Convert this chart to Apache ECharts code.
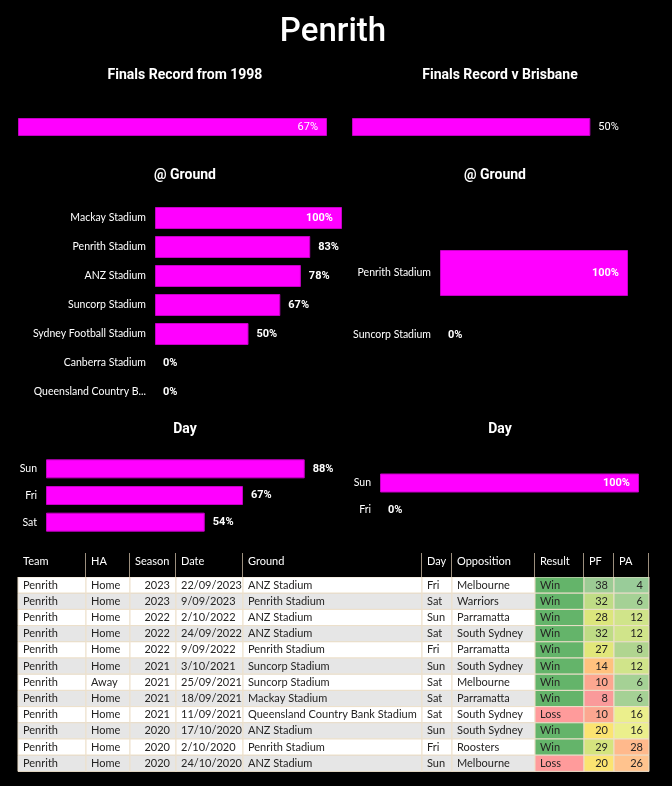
<!DOCTYPE html>
<html><head><meta charset="utf-8">
<script src="https://cdn.jsdelivr.net/npm/echarts@6/dist/echarts.min.js"></script>
<style>html,body{margin:0;padding:0;background:#000;}#c{width:672px;height:786px;}</style>
</head><body><div id="c"></div>
<script>
// ---------- DATA ----------
const overallCats = ['Finals from 1998'];
const overallVals = [0.67];
const brisbaneCats = ['v Brisbane'];
const brisbaneVals = [0.50];
const groundCats = ['Mackay Stadium','Penrith Stadium','ANZ Stadium','Suncorp Stadium','Sydney Football Stadium','Canberra Stadium','Queensland Country Bank Stadium'];
const groundVals = [1.00,0.83,0.78,0.67,0.50,0,0];
const groundBrisCats = ['Penrith Stadium','Suncorp Stadium'];
const groundBrisVals = [1.00,0];
const dayCats = ['Sun','Fri','Sat'];
const dayVals = [0.88,0.67,0.54];
const dayBrisCats = ['Sun','Fri'];
const dayBrisVals = [1.00,0];

const tableColumns = ['Team','HA','Season','Date','Ground','Day','Opposition','Result','PF','PA'];
const team = ['Penrith','Penrith','Penrith','Penrith','Penrith','Penrith','Penrith','Penrith','Penrith','Penrith','Penrith','Penrith'];
const ha = ['Home','Home','Home','Home','Home','Home','Away','Home','Home','Home','Home','Home'];
const season = [2023,2023,2022,2022,2022,2021,2021,2021,2021,2020,2020,2020];
const date = ['22/09/2023','9/09/2023','2/10/2022','24/09/2022','9/09/2022','3/10/2021','25/09/2021','18/09/2021','11/09/2021','17/10/2020','2/10/2020','24/10/2020'];
const ground = ['ANZ Stadium','Penrith Stadium','ANZ Stadium','ANZ Stadium','Penrith Stadium','Suncorp Stadium','Suncorp Stadium','Mackay Stadium','Queensland Country Bank Stadium','ANZ Stadium','Penrith Stadium','ANZ Stadium'];
const day = ['Fri','Sat','Sun','Sat','Fri','Sun','Sat','Sat','Sat','Sun','Fri','Sun'];
const opposition = ['Melbourne','Warriors','Parramatta','South Sydney','Parramatta','South Sydney','Melbourne','Parramatta','South Sydney','South Sydney','Roosters','Melbourne'];
const result = ['Win','Win','Win','Win','Win','Win','Win','Win','Loss','Win','Win','Loss'];
const pf = [38,32,28,32,27,14,10,8,10,20,29,20];
const pa = [4,6,12,12,8,12,6,6,16,16,28,26];

// ---------- STYLE / LAYOUT ----------
const MAG = '#ff00ff';
const TXT_FONT = "'Segoe UI', Lato, 'Open Sans', sans-serif";
const HEAD_FONT = "Roboto, 'DejaVu Sans', sans-serif";
const colEdges = [0,68,112,158,225,404,434,517,566,596,631];
const rightAligned = {2:true, 8:true, 9:true};
const resultColors = {Win:'#64b46a', Loss:'#ff9b9b'};
const rowFills = ['#ffffff','#e6e6e6'];
const cellBorder = '#ede0cb';

const pct = v => Math.round(v*100) + '%';

function barData(vals, max, thresh) {
  return vals.map(v => ({
    value: v,
    itemStyle: v === 0 ? {borderWidth:0} : undefined,
    label: (v/max >= thresh)
      ? {position:'insideRight', distance: 9}
      : {position:'right', distance: 8}
  }));
}

const grids = [
  {left:18, top:118, width:309, height:18},   // 0 overall
  {left:352, top:118, width:286, height:18},  // 1 v brisbane
  {left:155, top:203.5, width:187, height:203}, // 2 ground
  {left:440, top:242, width:188, height:124}, // 3 ground v bris
  {left:46, top:455.5, width:294, height:80}, // 4 day
  {left:380, top:469.5, width:259, height:54},// 5 day v bris
  {left:18, top:577, width:631, height:194.4},// 6 table body
  {left:18, top:550, width:631, height:27}    // 7 table header
];

const catLabel = {color:'#ffffff', fontSize:10.5, fontFamily:TXT_FONT, margin:9};

function valueAxis(gi, max) {
  return {type:'value', gridIndex:gi, min:0, max:max, show:false};
}
function catAxis(gi, data, showLabel, extra) {
  return Object.assign({
    type:'category', gridIndex:gi, data:data, inverse:true,
    axisLine:{show:false}, axisTick:{show:false}, splitLine:{show:false},
    axisLabel: Object.assign({show:showLabel}, catLabel)
  }, extra || {});
}

function barSeries(gi, vals, max, bw, bold) {
  return {
    type:'bar', xAxisIndex:gi, yAxisIndex:gi, barWidth:bw,
    data: barData(vals, max, 0.9),
    itemStyle:{color:MAG, borderColor:'#c400c4', borderWidth:1},
    label:{show:true, formatter: p => pct(p.value), color:'#ffffff',
      fontFamily:HEAD_FONT, fontSize:11, fontWeight: bold ? 'bold' : 'normal'},
    emphasis:{disabled:true}, silent:true
  };
}

// table cells
const textCols = [team, ha, season, date, ground, day, opposition];
const cells = [];
textCols.forEach((arr, c) => arr.forEach((v, r) => cells.push({c:c, r:r, text:String(v)})));
const resultCells = result.map((v, r) => ({c:7, r:r, text:v}));

function cellRect(api, c, r) {
  const p0 = api.coord([colEdges[c], r]);
  const p1 = api.coord([colEdges[c+1], r]);
  const h = api.size([0,1])[1];
  return {x:p0[0], y:p0[1]-h/2, w:p1[0]-p0[0], h:h, cy:p0[1]};
}
function cellGroup(rc, c, fill, text, color) {
  const right = rightAligned[c];
  return {
    type:'group',
    children:[
      {type:'rect', shape:{x:rc.x, y:rc.y, width:rc.w, height:rc.h},
        style:{fill:fill, stroke:cellBorder, lineWidth:1}},
      {type:'text', style:{
        text:text, x: right ? rc.x + rc.w - 6 : rc.x + 5, y: rc.cy,
        textAlign: right ? 'right' : 'left', textVerticalAlign:'middle',
        fill: color || '#252423', font: "11px " + TXT_FONT }}
    ]
  };
}

const rowIdx = team.map((_, i) => String(i));
const subStyle = {color:'#fff', fontSize:14, fontWeight:'bold', fontFamily:HEAD_FONT};

const option = {
  backgroundColor:'#000000',
  animation:false,
  title:[
    {text:'Penrith', left:328, top:11, textAlign:'center',
      textStyle:{color:'#fff', fontSize:33, fontWeight:500, fontFamily:HEAD_FONT}},
    {text:'Finals Record from 1998', left:180, top:63, textAlign:'center', textStyle:subStyle},
    {text:'Finals Record v Brisbane', left:495, top:63, textAlign:'center', textStyle:subStyle},
    {text:'@ Ground', left:180, top:163, textAlign:'center', textStyle:subStyle},
    {text:'@ Ground', left:490, top:163, textAlign:'center', textStyle:subStyle},
    {text:'Day', left:180, top:417, textAlign:'center', textStyle:subStyle},
    {text:'Day', left:495, top:417, textAlign:'center', textStyle:subStyle}
  ],
  grid: grids,
  xAxis:[
    valueAxis(0, 'dataMax'), valueAxis(1, 0.6), valueAxis(2, 1), valueAxis(3, 1),
    valueAxis(4, 1), valueAxis(5, 1),
    {type:'value', gridIndex:6, min:0, max:631, show:false},
    {type:'value', gridIndex:7, min:0, max:631, show:false}
  ],
  yAxis:[
    catAxis(0, overallCats, false), catAxis(1, brisbaneCats, false),
    catAxis(2, groundCats, true, {axisLabel:Object.assign({}, catLabel, {width:118, overflow:'truncate', ellipsis:'...'})}),
    catAxis(3, groundBrisCats, true), catAxis(4, dayCats, true), catAxis(5, dayBrisCats, true),
    {type:'category', gridIndex:6, data:rowIdx, inverse:true, show:false},
    {type:'category', gridIndex:7, data:['header'], show:false}
  ],
  visualMap:[
    {type:'continuous', show:false, seriesIndex:8, dimension:2, min:8, max:38,
      inRange:{color:['#fa9a9a','#ffbb82','#ffe070','#f5eb72','#dce67c','#b8da87','#9ccb94']}},
    {type:'continuous', show:false, seriesIndex:9, dimension:2, min:4, max:28,
      inRange:{color:['#99cc99','#b0d590','#d0e48a','#ebef8c','#ffe48c','#ffcd8f','#ffb98c']}}
  ],
  series:[
    barSeries(0, overallVals, 0.67, 18, false),
    barSeries(1, brisbaneVals, 0.6, 18, false),
    barSeries(2, groundVals, 1, 22, true),
    barSeries(3, groundBrisVals, 1, 46, true),
    barSeries(4, dayVals, 1, 19, true),
    barSeries(5, dayBrisVals, 1, 19, true),
    { // 6 text cells
      type:'custom', xAxisIndex:6, yAxisIndex:6, silent:true,
      data: cells.map(d => [d.c, d.r]),
      renderItem:(params, api) => {
        const d = cells[params.dataIndex];
        const rc = cellRect(api, d.c, d.r);
        return cellGroup(rc, d.c, rowFills[d.r % 2], d.text);
      }
    },
    { // 7 result
      type:'custom', xAxisIndex:6, yAxisIndex:6, silent:true,
      data: resultCells.map(d => [d.c, d.r]),
      renderItem:(params, api) => {
        const d = resultCells[params.dataIndex];
        const rc = cellRect(api, d.c, d.r);
        return cellGroup(rc, d.c, resultColors[d.text], d.text);
      }
    },
    { // 8 PF
      type:'custom', xAxisIndex:6, yAxisIndex:6, silent:true,
      data: pf.map((v, r) => [8, r, v]),
      renderItem:(params, api) => {
        const rc = cellRect(api, 8, api.value(1));
        return cellGroup(rc, 8, api.visual('color'), String(api.value(2)));
      }
    },
    { // 9 PA
      type:'custom', xAxisIndex:6, yAxisIndex:6, silent:true,
      data: pa.map((v, r) => [9, r, v]),
      renderItem:(params, api) => {
        const rc = cellRect(api, 9, api.value(1));
        return cellGroup(rc, 9, api.visual('color'), String(api.value(2)));
      }
    },
    { // 10 header
      type:'custom', xAxisIndex:7, yAxisIndex:7, silent:true,
      data: tableColumns.map((t, c) => [c, 0]),
      renderItem:(params, api) => {
        const c = params.dataIndex;
        const rc = cellRect(api, c, 0);
        return {type:'group', children:[
          {type:'rect', shape:{x:rc.x, y:rc.y, width:rc.w, height:rc.h}, style:{fill:'#000'}},
          {type:'line', shape:{x1:rc.x+rc.w-0.5, y1:rc.y+3, x2:rc.x+rc.w-0.5, y2:rc.y+rc.h},
            style:{stroke:'#9c8f7e', lineWidth:1}},
          {type:'text', style:{text:tableColumns[c], x:rc.x+5, y:rc.cy-2,
            textAlign:'left', textVerticalAlign:'middle', fill:'#ffffff', font:"11px " + TXT_FONT}}
        ]};
      }
    }
  ]
};

const chart = echarts.init(document.getElementById('c'));
chart.setOption(option);
</script>
</body></html>
